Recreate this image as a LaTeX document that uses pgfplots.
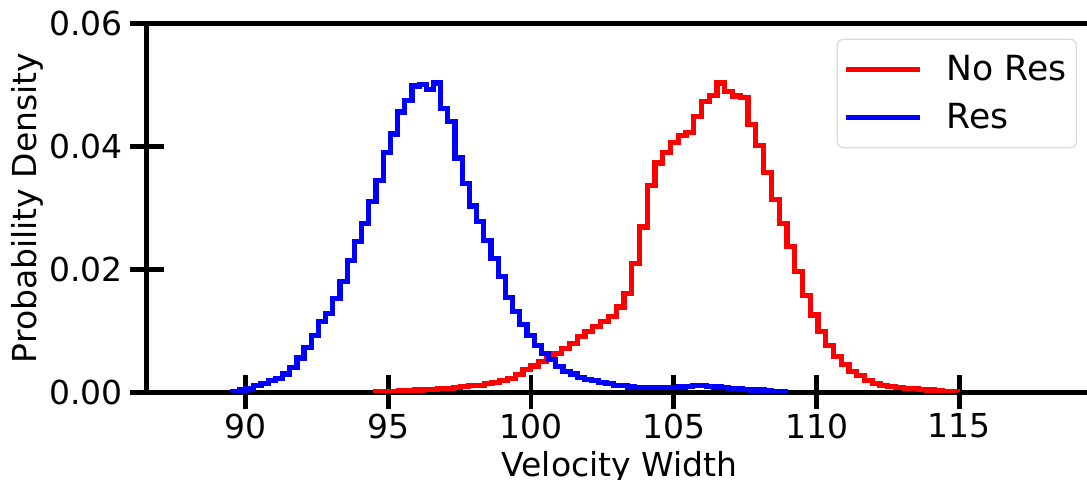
\documentclass[border=0pt]{standalone}
\usepackage{fontspec}
\setmainfont{DejaVu Sans}
\usepackage{pgfplots}
\pgfplotsset{compat=1.18}
\usepackage{pgfplotstable}

% No Res: 75 bins, left edge 94.552, width 0.2718
\pgfplotstableread{
i v
0 0
0 0.0001
1 0.0002
2 0.0002
3 0.0003
4 0.0003
5 0.0004
6 0.0005
7 0.0005
8 0.0006
9 0.0007
10 0.0008
11 0.0010
12 0.0011
13 0.0012
14 0.0014
15 0.0016
16 0.0019
17 0.0023
18 0.0029
19 0.0037
20 0.0043
21 0.0050
22 0.0057
23 0.0063
24 0.0072
25 0.0080
26 0.0091
27 0.0099
28 0.0107
29 0.0115
30 0.0123
31 0.0139
32 0.0161
33 0.0210
34 0.0269
35 0.0337
36 0.0373
37 0.0390
38 0.0406
39 0.0418
40 0.0422
41 0.0448
42 0.0473
43 0.0483
44 0.0503
45 0.0489
46 0.0482
47 0.0480
48 0.0435
49 0.0401
50 0.0357
51 0.0313
52 0.0275
53 0.0237
54 0.0196
55 0.0158
56 0.0126
57 0.0099
58 0.0077
59 0.0058
60 0.0045
61 0.0034
62 0.0027
63 0.0020
64 0.0015
65 0.0011
66 0.0010
67 0.0008
68 0.0007
69 0.0006
70 0.0005
71 0.0004
72 0.0003
73 0.0002
74 0.0002
75 0.0002
75 0
}\nores

% Res: 77 bins, left edge 89.534, width 0.25175
\pgfplotstableread{
i v
0 0
0 0.0002
1 0.0004
2 0.0007
3 0.0011
4 0.0015
5 0.0019
6 0.0023
7 0.0030
8 0.0040
9 0.0056
10 0.0073
11 0.0093
12 0.0115
13 0.0128
14 0.0153
15 0.0180
16 0.0215
17 0.0245
18 0.0275
19 0.0311
20 0.0344
21 0.0390
22 0.0420
23 0.0456
24 0.0474
25 0.0498
26 0.0500
27 0.0492
28 0.0503
29 0.0462
30 0.0440
31 0.0381
32 0.0340
33 0.0303
34 0.0278
35 0.0247
36 0.0218
37 0.0189
38 0.0154
39 0.0131
40 0.0111
41 0.0093
42 0.0077
43 0.0064
44 0.0053
45 0.0042
46 0.0034
47 0.0030
48 0.0025
49 0.0021
50 0.0019
51 0.0016
52 0.0014
53 0.0012
54 0.0011
55 0.0009
56 0.0008
57 0.0008
58 0.0008
59 0.0008
60 0.0008
61 0.0008
62 0.0009
63 0.0010
64 0.0011
65 0.0011
66 0.0010
67 0.0009
68 0.0008
69 0.0007
70 0.0006
71 0.0005
72 0.0004
73 0.0004
74 0.0003
75 0.0002
76 0.0001
77 0.0001
77 0
}\res

\begin{document}
\begin{tikzpicture}
\useasboundingbox (-73.35pt,-43.75pt) rectangle (470.15pt,196.25pt);
\clip (-73.35pt,-43.75pt) rectangle (470.15pt,196.25pt);
\begin{axis}[
  at={(0pt,0pt)}, anchor=south west,
  scale only axis, width=492.06pt, height=184.6pt,
  xmin=86.54, xmax=121, ymin=0, ymax=0.06,
  axis line style={line width=2.4pt, black},
  xtick={90,95,100,105,110,115},
  ytick={0,0.02,0.04,0.06},
  xtick pos=lower, ytick pos=lower,
  tick align=center, major tick length=17pt,
  every tick/.style={black, line width=2.4pt},
  scaled y ticks=false,
  /pgf/number format/assume math mode=true,
  yticklabel style={/pgf/number format/.cd, fixed, fixed zerofill, precision=2},
  every tick label/.append style={font=\fontsize{16.5}{19.8}\selectfont},
  xticklabel style={yshift=1.5pt},
  label style={font=\fontsize{16.5}{19.8}\selectfont},
  ylabel={Probability Density},
  ylabel style={at={(axis description cs:-0.1216,0.5)}, anchor=center},
  xlabel={Velocity Width},
  xlabel style={at={(axis description cs:0.4804,-0.2262)}, anchor=base},
  legend style={at={(axis description cs:0.9453,0.9583)}, anchor=north east,
    draw=black!15, line width=0.6pt, rounded corners=3pt, fill=white,
    font=\fontsize{17.3}{20.8}\selectfont, inner xsep=3pt, inner ysep=6pt,
    row sep=6pt, cells={anchor=west}},
  legend image code/.code={\draw[#1, line width=2.6pt] (0pt,0pt) -- (37pt,0pt); \path (47pt,0pt);},
]
\addplot[const plot, red, line width=2.6pt] table[x expr={94.552+\thisrow{i}*0.2718}, y=v]{\nores};
\addlegendentry{No Res}
\addplot[const plot, blue, line width=2.6pt] table[x expr={89.534+\thisrow{i}*0.25175}, y=v]{\res};
\addlegendentry{Res}
\end{axis}
\end{tikzpicture}
\end{document}
